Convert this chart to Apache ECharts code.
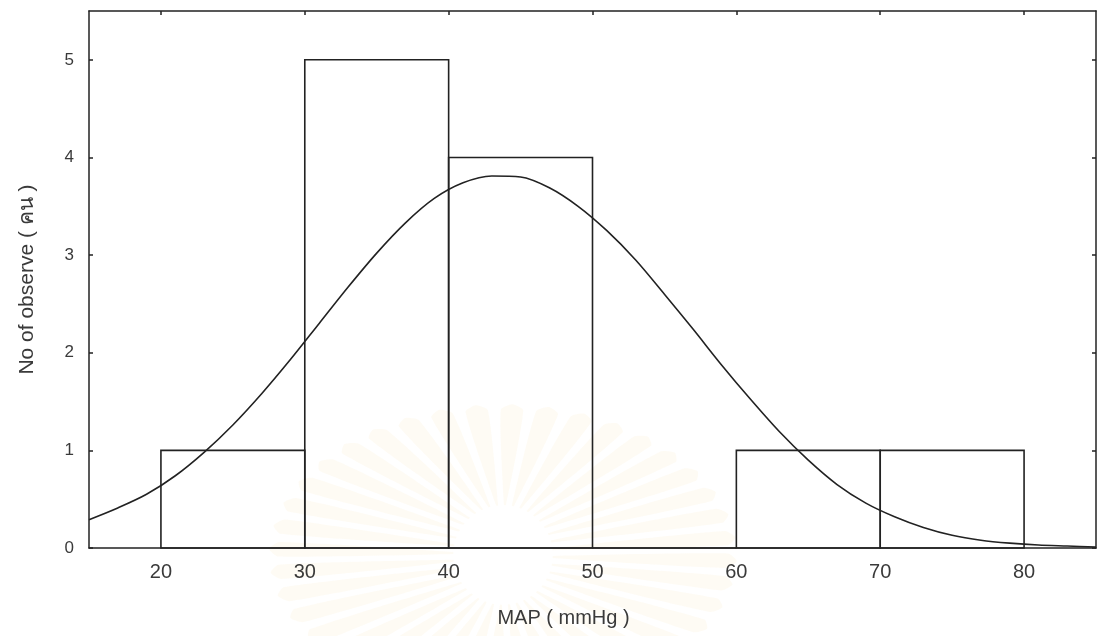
<!DOCTYPE html>
<html>
<head>
<meta charset="utf-8">
<script src="https://cdn.jsdelivr.net/npm/echarts@6/dist/echarts.min.js"></script>
<style>
html,body{margin:0;padding:0;background:#fff;}
#chart{width:1100px;height:636px;}
</style>
</head>
<body>
<div id="chart"></div>
<script>
// Histogram bins (MAP, mmHg) and counts
const binStarts = [20, 30, 40, 50, 60, 70];
const binEnds   = [30, 40, 50, 60, 70, 80];
const counts    = [1, 5, 4, 0, 1, 1];

// Fitted normal curve
const curveX = [15, 17, 19, 21, 23, 25, 27, 29, 31, 33, 35, 37, 39, 41, 43, 45, 47, 49, 51, 53, 55, 57, 59, 61, 63, 65, 67, 69, 71, 73, 75, 77, 79, 81, 83, 85];
const curveY = [0.29, 0.41, 0.55, 0.74, 0.98, 1.26, 1.58, 1.93, 2.30, 2.67, 3.02, 3.33, 3.58, 3.74, 3.81, 3.80, 3.69, 3.50, 3.25, 2.95, 2.60, 2.24, 1.87, 1.52, 1.19, 0.90, 0.65, 0.46, 0.32, 0.21, 0.13, 0.08, 0.05, 0.03, 0.02, 0.01];

// Tick labels
const xTicks = [20, 30, 40, 50, 60, 70, 80];
const yTicks = [0, 1, 2, 3, 4, 5];

const xTitle = 'MAP ( mmHg )';
const yTitle = 'No of observe ( คน )';

const ink = '#222';
const txt = '#3a3a3a';
const font = '"Liberation Sans", Arial, sans-serif';

const histData = binStarts.map((s, i) => [s, binEnds[i], counts[i]]);
const curveData = curveX.map((x, i) => [x, curveY[i]]);

// faint scanned watermark (sunburst) — decoration only
const rays = [];
const cx = 503, cy = 555, nRays = 40;
for (let k = 0; k < nRays; k++) {
  const a = (k / nRays) * Math.PI * 2 + 0.04;
  const r0 = 50, rx = 225, ry = 145;
  const w0 = 0.02, w1 = 0.05;
  const P = (r, ang) => [cx + r * Math.cos(ang), cy + r * Math.sin(ang)];
  const E = (s, ang) => [cx + rx * s * Math.cos(ang), cy + ry * s * Math.sin(ang)];
  const pts = [P(r0, a - w0), E(1, a - w1), E(1.04, a), E(1, a + w1), P(r0, a + w0)];
  rays.push({type: 'polygon', silent: true, shape: {points: pts, smooth: 0.2},
             style: {fill: 'rgba(242, 212, 130, 0.09)'}});
}

const chart = echarts.init(document.getElementById('chart'), null, {renderer: 'canvas'});

const baseAxisLine = {show: true, onZero: false, lineStyle: {color: ink, width: 1.5}};

chart.setOption({
  animation: false,
  backgroundColor: '#fff',
  graphic: [{type: 'group', z: -10, silent: true, children: rays}],
  grid: {left: 89, right: 4, top: 11, bottom: 88, containLabel: false},
  xAxis: [{
    type: 'value', min: 15, max: 85, position: 'bottom',
    axisLine: baseAxisLine,
    axisTick: {show: false},
    splitLine: {show: false},
    axisLabel: {customValues: xTicks, color: txt, fontSize: 20, fontFamily: font, margin: 14},
    name: xTitle, nameLocation: 'middle', nameGap: 60,
    nameTextStyle: {color: txt, fontSize: 20, fontFamily: font, padding: [0, 58, 0, 0]}
  }, {
    type: 'value', min: 15, max: 85, position: 'top',
    axisLine: baseAxisLine,
    axisTick: {show: true, inside: true, length: 4, customValues: xTicks, lineStyle: {color: ink, width: 1.5}},
    axisLabel: {show: false},
    splitLine: {show: false}
  }],
  yAxis: [{
    type: 'value', min: 0, max: 5.5, position: 'left',
    axisLine: baseAxisLine,
    axisTick: {show: true, inside: true, length: 4, customValues: yTicks, lineStyle: {color: ink, width: 1.5}},
    splitLine: {show: false},
    axisLabel: {customValues: yTicks, color: txt, fontSize: 17, fontFamily: font, margin: 15},
    name: yTitle, nameLocation: 'middle', nameGap: 51, nameRotate: 90,
    nameTextStyle: {color: txt, fontSize: 21, fontFamily: font}
  }, {
    type: 'value', min: 0, max: 5.5, position: 'right',
    axisLine: baseAxisLine,
    axisTick: {show: true, inside: true, length: 4, customValues: yTicks, lineStyle: {color: ink, width: 1.5}},
    axisLabel: {show: false},
    splitLine: {show: false}
  }],
  series: [{
    type: 'custom',
    xAxisIndex: 0, yAxisIndex: 0,
    data: histData,
    encode: {x: [0, 1], y: 2},
    renderItem: function (params, api) {
      const p0 = api.coord([api.value(0), 0]);
      const p1 = api.coord([api.value(1), api.value(2)]);
      return {
        type: 'rect',
        shape: {x: p0[0], y: p1[1], width: p1[0] - p0[0], height: p0[1] - p1[1]},
        style: {fill: 'none', stroke: ink, lineWidth: 1.6}
      };
    }
  }, {
    type: 'line',
    xAxisIndex: 0, yAxisIndex: 0,
    data: curveData,
    smooth: 0.3,
    showSymbol: false,
    lineStyle: {color: ink, width: 1.6}
  }]
});
</script>
</body>
</html>
